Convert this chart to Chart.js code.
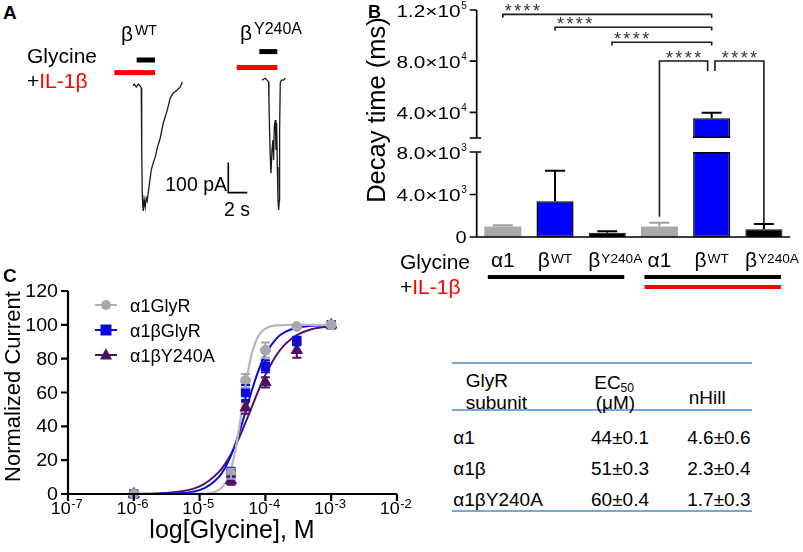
<!DOCTYPE html>
<html><head><meta charset="utf-8">
<script src="https://cdn.jsdelivr.net/npm/chart.js@4.4.1/dist/chart.umd.min.js"></script>
<style>
html,body{margin:0;padding:0;background:#fff}
body{position:relative;width:803px;height:552px;overflow:hidden;font-family:"Liberation Sans",Arial,Helvetica,sans-serif;color:#000}
canvas{position:absolute;display:block}
.t{position:absolute;white-space:nowrap;line-height:1}
.red{color:#f00}
.hl{position:absolute;height:2px;background:#7aa6d6;left:452px;width:300px}
</style></head><body>
<canvas id="cA" width="210" height="240" style="left:100px;top:0;width:210px;height:240px"></canvas>
<canvas id="cB" width="463" height="300" style="left:340px;top:0;width:463px;height:300px"></canvas>
<canvas id="cC" width="420" height="282" style="left:0;top:270px;width:420px;height:282px"></canvas>

<div class="t" style="left:3px;top:3px;font-size:19px;font-weight:bold">A</div>
<div class="t" style="left:27px;top:45px;font-size:21px">Glycine</div>
<div class="t" style="left:27px;top:69.5px;font-size:21px">+<span class="red">IL-1β</span></div>
<div class="t" style="left:121px;top:22.5px;font-size:21px">β</div>
<div class="t" style="left:135px;top:23px;font-size:14px">WT</div>
<div class="t" style="left:240px;top:21.5px;font-size:21px">β</div>
<div class="t" style="left:254px;top:21.4px;font-size:16px">Y240A</div>
<div class="t" style="right:576px;top:175px;font-size:19.5px">100 pA</div>
<div class="t" style="left:224px;top:200px;font-size:19.5px">2 s</div>

<div class="t" style="left:368px;top:2.7px;font-size:18px;font-weight:bold">B</div>
<div class="t" style="left:400px;top:250.5px;font-size:21px">Glycine</div>
<div class="t" style="left:400px;top:276px;font-size:21px">+<span class="red">IL-1β</span></div>

<div class="t" style="left:3px;top:265.5px;font-size:19px;font-weight:bold">C</div>

<div class="hl" style="top:362.3px"></div>
<div class="hl" style="top:409px"></div>
<div class="hl" style="top:510px"></div>
<div class="t" style="left:465.7px;top:370.8px;font-size:19px">GlyR</div>
<div class="t" style="left:465.7px;top:392.8px;font-size:19px">subunit</div>
<div class="t" style="left:594.3px;top:372.5px;font-size:19px">EC</div>
<div class="t" style="left:620.5px;top:381.8px;font-size:12px">50</div>
<div class="t" style="left:595.7px;top:392.7px;font-size:19px">(μM)</div>
<div class="t" style="left:688.7px;top:387.5px;font-size:19px">nHill</div>
<div id="tbl"></div>

<script>
// ================= DATA =================
// Panel A: current traces (time in s, current in pA)
const traceWT_t  = [0,0.1,0.32,0.53,0.74,0.84,0.89,0.95,1.0,1.05,1.16,1.26,1.37,1.47,1.68,1.89,2.1,2.32,2.53,2.84,3.16,3.58,3.89,4.21,4.63,4.95,5.16];
const traceWT_pA = [-7,0,-10,0,-7,-13,-220,-370,-403,-423,-387,-410,-380,-390,-337,-287,-263,-243,-213,-180,-130,-87,-47,-30,-20,-10,7];
const traceY_t   = [13.55,13.9,14.07,14.24,14.28,14.35,14.42,14.49,14.6,14.7,14.77,14.84,14.95,15.02,15.09,15.16,15.23,15.3,15.37,15.4,15.47,15.58,15.82,16.0];
const traceY_pA  = [13,19,13,7,-53,-163,-243,-297,-220,-187,-253,-143,-120,-220,-130,-277,-387,-420,-387,-163,3,13,13,20];
// drug application bars (s) and their levels (pA)
const glyStart = [0.36, 13.27], glyEnd = [2.29, 15.16], glyLevel = [80, 108];
const ilStart  = [-1.99, 10.89], ilEnd = [2.29, 15.16], ilLevel = [38, 55];
// scale bar (s, pA)
const sbarT = 10.0, sbarSec = 2, sbarBottom = -362, sbarPA = 100;

// Panel B: decay time (ms)
const catBase = ['α1','β','β','α1','β','β'];
const catSup  = ['','WT','Y240A','','WT','Y240A'];
const decayMean = [980, 3360, 410, 1000, 35400, 725];
const decaySem  = [120, 2880, 120, 350, 4400, 500];
const bTicks = [0, 4000, 8000, 40000, 80000, 120000];
const B_LOW_MAX = 8000, B_HIGH_MIN = 20000, B_MAX = 120000;
// significance brackets
const sigFrom  = [0, 1, 2.09, 3, 4.063];
const sigTo    = [4, 4, 4, 3.923, 5];
const sigLevel = [116600, 106500, 94800, 80200, 80200];
const sigLegL  = [114000, 104000, 92300, 1900, 72300];
const sigLegR  = [114000, 104000, 92300, 72300, 1220];
const sigText  = ['****','****','****','****','****'];
const glyGroups = [[0,2],[3,5]];
const ilGroups  = [[3,5]];

// Panel C: concentration-response
const doseX    = [1e-6, 3e-5, 5e-5, 1e-4, 3e-4, 1e-3];
const a1Mean   = [0, 12, 67, 85, 99, 100];
const a1Err    = [0, 3, 4, 4.5, 0.5, 0];
const a1bMean  = [0, 12.5, 60, 75.5, 90.5, 100];
const a1bErr   = [0, 3, 4.5, 3.5, 2.5, 0];
const a1bYMean = [0, 8, 51, 66, 85, 100];
const a1bYErr  = [0, 2.5, 3.5, 3, 4.5, 0];
const curveX   = [1e-6,3e-6,1e-5,2e-5,2.5e-5,3e-5,3.5e-5,4e-5,4.5e-5,5e-5,6e-5,7e-5,8e-5,1e-4,1.5e-4,2e-4,3e-4,5e-4,1e-3];
const fitA1    = [0,0,0.1,2.6,6.9,14.7,25.9,39.2,52.6,64.3,80.6,89.4,94.0,97.8,99.7,99.9,100,100,100];
const fitA1b   = [0,0.2,2.3,10.4,16.2,22.8,29.6,36.4,42.8,48.9,59.2,67.4,73.8,82.5,92.3,95.9,98.3,99.5,99.9];
const fitA1bY  = [0.1,0.6,4.5,13.4,18.4,23.5,28.6,33.4,38.0,42.3,50.0,56.5,62.0,70.4,82.6,88.6,93.9,97.4,99.2];
const legendLabels = ['α1GlyR','α1βGlyR','α1βY240A'];
const cYTicks = [0,20,40,60,80,100,120];
const cXTicks = [1e-7,1e-6,1e-5,1e-4,1e-3,1e-2];
const cXTickExp = ['-7','-6','-5','-4','-3','-2'];

// Table
const tblSubunit = ['α1','α1β','α1βY240A'];
const tblEC50    = ['44±0.1','51±0.3','60±0.4'];
const tblHill    = ['4.6±0.6','2.3±0.4','1.7±0.3'];

// ================= HELPERS =================
const FONT = '"Liberation Sans", Arial, sans-serif';
function txt(ctx, s, x, y, size, opt) {
  opt = opt || {};
  const sx = opt.sx || 1;
  ctx.save();
  ctx.font = (opt.bold ? 'bold ' : '') + size + 'px ' + FONT;
  ctx.fillStyle = opt.color || '#000';
  ctx.textBaseline = opt.baseline || 'alphabetic';
  const w = ctx.measureText(s).width * sx;
  let x0 = x;
  if (opt.align === 'right') x0 = x - w; else if (opt.align === 'center') x0 = x - w / 2;
  ctx.translate(x0, y); ctx.scale(sx, 1); ctx.textAlign = 'left';
  ctx.fillText(s, 0, 0);
  ctx.restore();
  return w;
}
function measure(ctx, s, size, sx) {
  ctx.save(); ctx.font = size + 'px ' + FONT;
  const w = ctx.measureText(s).width * (sx || 1); ctx.restore(); return w;
}
const baseOpts = { responsive:false, animation:false, events:[], plugins:{legend:{display:false}, tooltip:{enabled:false}} };

// ================= PANEL A =================
const pluginA = {
  id:'pA',
  afterDatasetsDraw(chart) {
    const ctx = chart.ctx, xs = chart.scales.x, ys = chart.scales.y;
    ctx.save();
    const TH = 5;
    for (let i = 0; i < ilStart.length; i++) {
      ctx.fillStyle = '#ff0000';
      const y = ys.getPixelForValue(ilLevel[i]);
      ctx.fillRect(xs.getPixelForValue(ilStart[i]), y - TH/2, xs.getPixelForValue(ilEnd[i]) - xs.getPixelForValue(ilStart[i]), TH);
      ctx.fillStyle = '#000';
      const y2 = ys.getPixelForValue(glyLevel[i]);
      ctx.fillRect(xs.getPixelForValue(glyStart[i]), y2 - TH/2, xs.getPixelForValue(glyEnd[i]) - xs.getPixelForValue(glyStart[i]), TH);
    }
    ctx.strokeStyle = '#000'; ctx.lineWidth = 1.6;
    ctx.beginPath();
    const sx = xs.getPixelForValue(sbarT), sb = ys.getPixelForValue(sbarBottom);
    ctx.moveTo(sx, ys.getPixelForValue(sbarBottom + sbarPA)); ctx.lineTo(sx, sb);
    ctx.lineTo(xs.getPixelForValue(sbarT + sbarSec), sb);
    ctx.stroke();
    ctx.restore();
  }
};
new Chart(document.getElementById('cA'), {
  type:'line',
  data:{ datasets:[
    { data: traceWT_t.map((t,i)=>({x:t, y:traceWT_pA[i]})), borderColor:'#1a1a1a', borderWidth:1.3, pointRadius:0, tension:0, fill:false },
    { data: traceY_t.map((t,i)=>({x:t, y:traceY_pA[i]})), borderColor:'#1a1a1a', borderWidth:1.3, pointRadius:0, tension:0, fill:false }
  ]},
  options: Object.assign({}, baseOpts, {
    layout:{padding:0},
    scales:{ x:{type:'linear', display:false, min:-3.5, max:18.6}, y:{type:'linear', display:false, min:-520, max:280} }
  }),
  plugins:[pluginA]
});

// ================= PANEL B =================
const LOW_FRAC = 85/227, GAP_FRAC = 14/227;
class BrokenScale extends Chart.LinearScale {
  getPixelForValue(v) {
    if (v === null || v === undefined || isNaN(v)) return NaN;
    const b = this.bottom, h = this.bottom - this.top;
    if (v <= B_LOW_MAX) return b - (v / B_LOW_MAX) * LOW_FRAC * h;
    if (v >= B_HIGH_MIN) return b - (LOW_FRAC + GAP_FRAC) * h - (v - B_HIGH_MIN) / (B_MAX - B_HIGH_MIN) * (1 - LOW_FRAC - GAP_FRAC) * h;
    return b - LOW_FRAC * h - (v - B_LOW_MAX) / (B_HIGH_MIN - B_LOW_MAX) * GAP_FRAC * h;
  }
  getValueForPixel(p) {
    const b = this.bottom, h = this.bottom - this.top, f = (b - p) / h;
    if (f <= LOW_FRAC) return f / LOW_FRAC * B_LOW_MAX;
    if (f >= LOW_FRAC + GAP_FRAC) return B_HIGH_MIN + (f - LOW_FRAC - GAP_FRAC) / (1 - LOW_FRAC - GAP_FRAC) * (B_MAX - B_HIGH_MIN);
    return B_LOW_MAX + (f - LOW_FRAC) / GAP_FRAC * (B_HIGH_MIN - B_LOW_MAX);
  }
}
BrokenScale.id = 'brokenLinear';
BrokenScale.defaults = Chart.LinearScale.defaults;
Chart.register(BrokenScale);

const barFill   = ['#a9a9a9','#0000ff','#000000','#a9a9a9','#0000ff','#000000'];
const barBorder = ['#a9a9a9','#000000','#000000','#a9a9a9','#000000','#000000'];
const errColor  = ['#a0a0a0','#000000','#000000','#a0a0a0','#000000','#000000'];

const pluginB = {
  id:'pB',
  afterDraw(chart) {
    const ctx = chart.ctx, ys = chart.scales.y, xs = chart.scales.x, meta = chart.getDatasetMeta(0);
    const L = chart.chartArea.left, R = chart.chartArea.right;
    const y8 = ys.getPixelForValue(B_LOW_MAX), y20 = ys.getPixelForValue(B_HIGH_MIN);
    ctx.save();
    meta.data.forEach((bar, i) => {
      if (decayMean[i] > B_LOW_MAX) {
        const w = bar.width, x0 = bar.x - w/2;
        ctx.fillStyle = '#fff'; ctx.fillRect(x0 - 1, y20, w + 2, y8 - y20);
        ctx.fillStyle = barBorder[i]; ctx.fillRect(x0, y20 - 1.5, w, 1.5); ctx.fillRect(x0, y8, w, 1.5);
      }
    });
    meta.data.forEach((bar, i) => {
      const yT = ys.getPixelForValue(decayMean[i] + decaySem[i]), yM = ys.getPixelForValue(decayMean[i]);
      ctx.strokeStyle = errColor[i]; ctx.lineWidth = 2;
      ctx.beginPath(); ctx.moveTo(bar.x, yM); ctx.lineTo(bar.x, yT);
      ctx.moveTo(bar.x - 10, yT); ctx.lineTo(bar.x + 10, yT); ctx.stroke();
    });
    const y0 = ys.getPixelForValue(0), yMax = ys.getPixelForValue(B_MAX);
    ctx.strokeStyle = '#000'; ctx.lineWidth = 1.7;
    ctx.beginPath();
    ctx.moveTo(L, y0); ctx.lineTo(L, y8);
    ctx.moveTo(L, y20); ctx.lineTo(L, yMax);
    ctx.moveTo(L - 1, y0); ctx.lineTo(R, y0);
    bTicks.forEach(v => {
      const y = ys.getPixelForValue(v);
      ctx.moveTo(L - 7, y); ctx.lineTo(v === B_LOW_MAX ? L + 4.5 : L, y);
    });
    ctx.moveTo(L - 7, y20); ctx.lineTo(L + 4.5, y20);
    ctx.stroke();
    bTicks.forEach(v => {
      const y = ys.getPixelForValue(v);
      const right = L - 10;
      if (v === 0) { txt(ctx, '0', right, y + 6, 16, {align:'right', sx:1.25}); return; }
      const e = Math.floor(Math.log10(v) + 1e-9), m = (v / Math.pow(10, e)).toFixed(1);
      const sup = String(e), main = m + '×10';
      const ws = measure(ctx, sup, 10, 1);
      txt(ctx, sup, right, y - 1.5, 10, {align:'right'});
      txt(ctx, main, right - ws - 0.5, y + 6.5, 16, {align:'right', sx:1.3});
    });
    xs.ticks.forEach((t, i) => {
      const x = xs.getPixelForValue(i);
      const wb = measure(ctx, catBase[i], 20, 1.05), wsup = catSup[i] ? measure(ctx, catSup[i], 13, 1.05) + 1 : 0;
      const tot = wb + wsup;
      const start = x - Math.min(tot / 2, 19);
      txt(ctx, catBase[i], start, 267, 20, {sx:1.05});
      if (catSup[i]) txt(ctx, catSup[i], start + wb + 1, 262.5, 13, {sx:1.05});
    });
    ctx.fillStyle = '#000';
    glyGroups.forEach(g => {
      const a = xs.getPixelForValue(g[0]) - 15, b = xs.getPixelForValue(g[1]) + 17;
      ctx.fillRect(a, 275, b - a, 4);
    });
    ctx.fillStyle = '#ff0000';
    ilGroups.forEach(g => {
      const a = xs.getPixelForValue(g[0]) - 15, b = xs.getPixelForValue(g[1]) + 17;
      ctx.fillRect(a, 285, b - a, 4);
    });
    ctx.save();
    ctx.translate(44.8, 110); ctx.rotate(-Math.PI/2);
    ctx.font = '25.5px ' + FONT; ctx.fillStyle = '#000'; ctx.textAlign = 'center'; ctx.textBaseline = 'alphabetic';
    ctx.fillText('Decay time (ms)', 0, 0);
    ctx.restore();
    ctx.strokeStyle = '#1a1a1a'; ctx.lineWidth = 1.6;
    for (let k = 0; k < sigFrom.length; k++) {
      const xa = xs.getPixelForValue(sigFrom[k]), xb = xs.getPixelForValue(sigTo[k]);
      const yl = ys.getPixelForValue(sigLevel[k]);
      ctx.beginPath();
      ctx.moveTo(xa, ys.getPixelForValue(sigLegL[k])); ctx.lineTo(xa, yl); ctx.lineTo(xb, yl); ctx.lineTo(xb, ys.getPixelForValue(sigLegR[k]));
      ctx.stroke();
      const n = sigText[k].length, pitch = 9.4, w = (n - 1) * pitch + 7;
      const sx0 = k < 3 ? xa + 2 : (xa + xb) / 2 - w / 2;
      for (let j = 0; j < n; j++) txt(ctx, '*', sx0 + j * pitch, yl + 3, 18, {color:'#333'});
    }
    ctx.restore();
  }
};
new Chart(document.getElementById('cB'), {
  type:'bar',
  data:{ labels: catBase.map((b,i)=>b+catSup[i]), datasets:[{
    data: decayMean, backgroundColor: barFill, borderColor: barBorder,
    borderWidth: [0,1.5,1,0,1.5,1], borderSkipped:false, barPercentage:0.71, categoryPercentage:1.0
  }]},
  options: Object.assign({}, baseOpts, {
    layout:{padding:{left:136.7, right:13, top:10, bottom:63}},
    scales:{ x:{display:false, offset:true}, y:{type:'brokenLinear', display:false, min:0, max:B_MAX} }
  }),
  plugins:[pluginB]
});

// ================= PANEL C =================
const GRAY_P = '#a8a8ac', GRAY_L = '#b6b6ba', BLUE = '#0a0ad8', PURPLE = '#4d1163';
const ptCols = [GRAY_P, BLUE, PURPLE];
const ptStyles = ['circle','rect','triangle'];
const means = [a1Mean, a1bMean, a1bYMean], errs = [a1Err, a1bErr, a1bYErr];

function drawMarker(ctx, style, x, y, col) {
  ctx.fillStyle = col;
  ctx.beginPath();
  if (style === 'circle') ctx.arc(x, y, 5, 0, Math.PI*2);
  else if (style === 'rect') ctx.rect(x - 5.5, y - 5.5, 11, 11);
  else { ctx.moveTo(x, y - 7); ctx.lineTo(x + 6, y + 4.5); ctx.lineTo(x - 6, y + 4.5); ctx.closePath(); }
  ctx.fill();
}

const pluginC = {
  id:'pC',
  afterDatasetsDraw(chart) {
    const ctx = chart.ctx, xs = chart.scales.x, ys = chart.scales.y;
    ctx.save();
    for (let s = 2; s >= 0; s--) {
      ctx.strokeStyle = ptCols[s]; ctx.lineWidth = 2;
      doseX.forEach((d, i) => {
        if (!errs[s][i]) return;
        const x = xs.getPixelForValue(d);
        const yl = ys.getPixelForValue(means[s][i] - errs[s][i]), yh = ys.getPixelForValue(means[s][i] + errs[s][i]);
        ctx.beginPath();
        ctx.moveTo(x, yl); ctx.lineTo(x, yh);
        ctx.moveTo(x - 4.5, yl); ctx.lineTo(x + 4.5, yl);
        ctx.moveTo(x - 4.5, yh); ctx.lineTo(x + 4.5, yh);
        ctx.stroke();
      });
    }
    ctx.restore();
  },
  afterDraw(chart) {
    const ctx = chart.ctx, xs = chart.scales.x, ys = chart.scales.y, a = chart.chartArea;
    ctx.save();
    const y0 = ys.getPixelForValue(0);
    ctx.strokeStyle = '#000'; ctx.lineWidth = 2.2;
    ctx.beginPath();
    ctx.moveTo(a.left, ys.getPixelForValue(120)); ctx.lineTo(a.left, y0);
    ctx.moveTo(a.left - 2, y0); ctx.lineTo(xs.getPixelForValue(cXTicks[cXTicks.length-1]), y0);
    cYTicks.forEach(v => { const y = ys.getPixelForValue(v); ctx.moveTo(a.left - 7, y); ctx.lineTo(a.left, y); });
    cXTicks.forEach(v => { const x = xs.getPixelForValue(v); ctx.moveTo(x, y0); ctx.lineTo(x, y0 + 7); });
    ctx.stroke();
    cYTicks.forEach(v => { txt(ctx, String(v), a.left - 10, ys.getPixelForValue(v) + 6, 17.5, {align:'right', sx:1.12}); });
    cXTicks.forEach((v, i) => {
      const x = xs.getPixelForValue(v);
      const wm = measure(ctx, '10', 16, 1.12), we = measure(ctx, cXTickExp[i], 13);
      const st = x - (wm + we) / 2 - 1.5;
      txt(ctx, '10', st, 243.5, 16, {sx:1.12});
      txt(ctx, cXTickExp[i], st + wm + 0.5, 238, 13);
    });
    txt(ctx, 'log[Glycine], M', 232, 268, 25, {align:'center'});
    ctx.save();
    ctx.translate(20, 116.6); ctx.rotate(-Math.PI/2);
    ctx.font = '22px ' + FONT; ctx.fillStyle = '#000'; ctx.textAlign = 'center';
    ctx.fillText('Normalized Current', 0, 0);
    ctx.restore();
    const lcols = [GRAY_L, BLUE, PURPLE];
    legendLabels.forEach((lab, i) => {
      const y = 35 + i * 25;
      ctx.strokeStyle = lcols[i]; ctx.lineWidth = 2;
      ctx.beginPath(); ctx.moveTo(95, y); ctx.lineTo(117, y); ctx.stroke();
      drawMarker(ctx, ptStyles[i], 106, y, ptCols[i]);
      txt(ctx, lab, 130, y + 6.5, 18);
    });
    ctx.restore();
  }
};
const pts = (arr) => doseX.map((d,i)=>({x:d, y:arr[i]}));
const crv = (arr) => curveX.map((d,i)=>({x:d, y:arr[i]}));
new Chart(document.getElementById('cC'), {
  type:'line',
  data:{ datasets:[
    { data: pts(a1Mean), showLine:false, pointStyle:'circle', pointRadius:5, backgroundColor:GRAY_P, borderColor:GRAY_P, borderWidth:1, clip:false },
    { data: pts(a1bMean), showLine:false, pointStyle:'rect', pointRadius:6, backgroundColor:BLUE, borderColor:BLUE, borderWidth:1, clip:false },
    { data: pts(a1bYMean), showLine:false, pointStyle:'triangle', pointRadius:6.5, backgroundColor:PURPLE, borderColor:PURPLE, borderWidth:1, clip:false },
    { data: crv(fitA1), borderColor:GRAY_L, borderWidth:2.2, pointRadius:0, cubicInterpolationMode:'monotone', fill:false, clip:false },
    { data: crv(fitA1b), borderColor:BLUE, borderWidth:2, pointRadius:0, cubicInterpolationMode:'monotone', fill:false, clip:false },
    { data: crv(fitA1bY), borderColor:PURPLE, borderWidth:2, pointRadius:0, cubicInterpolationMode:'monotone', fill:false, clip:false }
  ]},
  options: Object.assign({}, baseOpts, {
    layout:{padding:{left:68, right:23, top:21, bottom:58}},
    scales:{ x:{type:'logarithmic', display:false, min:1e-7, max:1e-2}, y:{type:'linear', display:false, min:0, max:120} }
  }),
  plugins:[pluginC]
});

// ================= TABLE =================
(function(){
  const host = document.getElementById('tbl');
  tblSubunit.forEach((s, i) => {
    const top = 427.5 + i * 31.2;
    host.insertAdjacentHTML('beforeend',
      '<div class="t" style="left:453.3px;top:' + top + 'px;font-size:19px">' + s + '</div>' +
      '<div class="t" style="right:154px;top:' + top + 'px;font-size:19px">' + tblEC50[i] + '</div>' +
      '<div class="t" style="right:52.5px;top:' + top + 'px;font-size:19px">' + tblHill[i] + '</div>');
  });
})();
</script>
</body></html>
